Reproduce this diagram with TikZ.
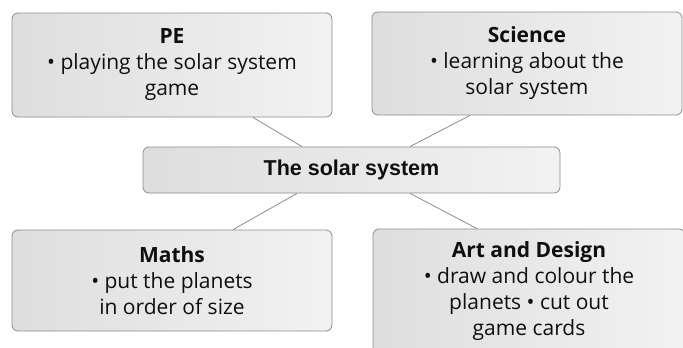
\documentclass[tikz,border=0pt]{standalone}
\usepackage{fontspec}
\setmainfont{Open Sans}
\newfontfamily\headfont{Liberation Sans}
\usetikzlibrary{positioning}
\definecolor{boxgrey}{RGB}{222,222,222}
\definecolor{boxlight}{RGB}{242,242,242}
\definecolor{edgegrey}{RGB}{140,140,140}
\definecolor{inkgrey}{RGB}{15,15,15}

\begin{document}
\begin{tikzpicture}[x=1pt, y=1pt,
      subject/.style={rectangle, draw=edgegrey, line width=0.8pt, rounded corners=6pt,
                      left color=boxgrey, right color=boxlight, text=inkgrey,
                      align=center, font=\fontsize{21}{26}\selectfont, inner sep=0pt},
      topic/.style={subject, font=\headfont\bfseries\fontsize{21.5}{24}\selectfont},
      link/.style={draw=edgegrey, line width=0.8pt}
    ]
    \useasboundingbox (0,0) rectangle (683,-348);

    \node[topic, minimum width=417pt, minimum height=46pt] (sun) at (351.5,-170) {The solar system};
    \node[subject, minimum width=320pt, minimum height=104pt] (pe) at (172,-65)
      {\textbf{PE}\\\textbullet{} playing the solar system\\game};
    \node[subject, minimum width=310pt, minimum height=103pt] (sci) at (527,-63.5)
      {\textbf{Science}\\\textbullet{} learning about the\\solar system};
    \node[subject, minimum width=320pt, minimum height=101pt] (maths) at (172,-280.5)
      {\textbf{Maths}\\\textbullet{} put the planets\\in order of size};
    \node[subject, minimum width=312pt, minimum height=125pt] (art) at (529,-291.5)
      {\textbf{Art and Design}\\\textbullet{} draw and colour the\\planets \textbullet{} cut out\\game cards};

    \draw[link] ([xshift=81pt]pe.south) -- ([xshift=-49.5pt]sun.north);
    \draw[link] ([xshift=-57pt]sci.south) -- ([xshift=58.5pt]sun.north);
    \draw[link] ([xshift=61pt]maths.north) -- ([xshift=-54.5pt]sun.south);
    \draw[link] ([xshift=-52pt]art.north) -- ([xshift=58.5pt]sun.south);
  \end{tikzpicture}
\end{document}
